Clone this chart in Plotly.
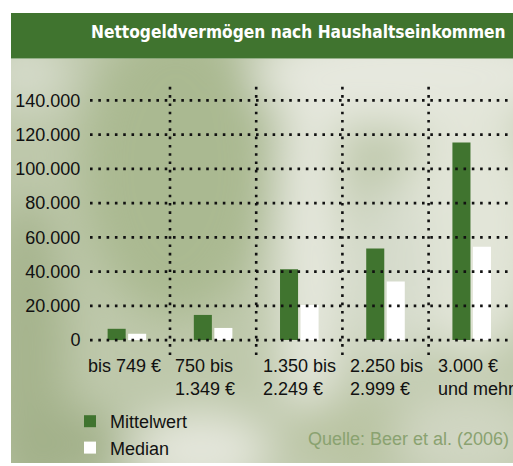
import base64
import plotly.graph_objects as go

# ---- data ----
categories = [["bis 749 €"], ["750 bis", "1.349 €"], ["1.350 bis", "2.249 €"],
              ["2.250 bis", "2.999 €"], ["3.000 €", "und mehr"]]
mittelwert = [6600, 14700, 41400, 53500, 115400]
median = [3700, 7100, 20500, 34200, 54500]
tick_vals = [0, 20000, 40000, 60000, 80000, 100000, 120000, 140000]
tick_text = ["0", "20.000", "40.000", "60.000", "80.000", "100.000", "120.000", "140.000"]
title_text = "Nettogeldvermögen nach Haushaltseinkommen"
source_text = "Quelle: Beer et al. (2006)"

W, H = 513, 466
GREEN = "#40742f"
FONT = "Liberation Sans, Arial, sans-serif"
CAT0_PX, CAT_STEP_PX = 126.9, 86.2   # pixel centre of first category, category width


def px(x):
    return x / W


def py(y):
    return 1 - y / H


# ---- background texture (decoration) ----
svg = """<svg xmlns='http://www.w3.org/2000/svg' width='502' height='407' viewBox='0 0 502 407' preserveAspectRatio='none'>
<defs><filter id='b' x='-50%' y='-50%' width='200%' height='200%'><feGaussianBlur stdDeviation='22'/></filter></defs>
<rect width='502' height='407' fill='rgb(190,200,171)'/>
<g filter='url(#b)'>
<ellipse cx='165' cy='110' rx='95' ry='150' fill='rgb(170,185,145)'/>
<ellipse cx='15' cy='300' rx='40' ry='160' fill='rgb(166,180,141)'/>
<ellipse cx='15' cy='15' rx='45' ry='35' fill='rgb(214,219,203)'/>
<ellipse cx='400' cy='15' rx='160' ry='55' fill='rgb(230,232,222)'/>
<ellipse cx='300' cy='200' rx='32' ry='230' fill='rgb(230,232,222)'/>
<ellipse cx='460' cy='170' rx='70' ry='130' fill='rgb(226,229,216)'/>
<ellipse cx='380' cy='220' rx='40' ry='100' fill='rgb(214,219,204)'/>
<ellipse cx='190' cy='395' rx='70' ry='40' fill='rgb(228,230,219)'/>
<ellipse cx='330' cy='380' rx='60' ry='40' fill='rgb(186,196,163)'/>
<ellipse cx='455' cy='380' rx='70' ry='50' fill='rgb(208,214,194)'/>
<ellipse cx='50' cy='390' rx='60' ry='40' fill='rgb(163,177,138)'/>
</g></svg>"""
bg_src = "data:image/svg+xml;base64," + base64.b64encode(svg.encode()).decode()

fig = go.Figure()
fig.add_trace(go.Bar(x=list(range(len(categories))), y=mittelwert, name="Mittelwert",
                     marker=dict(color=GREEN, line=dict(width=0))))
fig.add_trace(go.Bar(x=list(range(len(categories))), y=median, name="Median",
                     marker=dict(color="white", line=dict(width=0))))

dotted = "2.6px,5.7px"
shapes = []
# banner
shapes.append(dict(type="rect", xref="paper", yref="paper", x0=px(11), x1=1,
                   y0=py(59), y1=py(13), fillcolor=GREEN, line=dict(width=0), layer="below"))
# horizontal dotted grid (above bars)
for v in tick_vals:
    shapes.append(dict(type="line", xref="x domain", yref="y", x0=0, x1=1, y0=v, y1=v,
                       line=dict(color="#111", width=2.6, dash=dotted), layer="above"))
# vertical dotted separators
for i in range(len(categories) - 1):
    shapes.append(dict(type="line", xref="x", yref="y domain", x0=i + 0.5, x1=i + 0.5,
                       y0=0, y1=1, line=dict(color="#111", width=2.6, dash=dotted), layer="above"))

annotations = []
annotations.append(dict(text=title_text, xref="paper", yref="paper", x=px(508), y=py(32),
                        xanchor="right", yanchor="middle", showarrow=False,
                        font=dict(family="DejaVu Sans Condensed, DejaVu Sans, sans-serif",
                                  size=17.2, color="white", weight="bold")))
line_y = [368.3, 391.7]
for i, lines in enumerate(categories):
    left_px = CAT0_PX + CAT_STEP_PX * (i - 0.5) + 2 + 1.3 * i
    for j, t in enumerate(lines):
        annotations.append(dict(text=t, xref="paper", yref="paper", x=px(left_px), y=py(line_y[j]),
                                xanchor="left", yanchor="middle", showarrow=False,
                                font=dict(family=FONT, size=18, color="#111")))
annotations.append(dict(text=source_text, xref="paper", yref="paper", x=px(511), y=py(442),
                        xanchor="right", yanchor="middle", showarrow=False,
                        font=dict(family=FONT, size=18, color="rgb(138,162,112)")))

x_left = (90 - CAT0_PX) / CAT_STEP_PX
x_right = (513 - CAT0_PX) / CAT_STEP_PX

fig.update_layout(
    width=W, height=H,
    margin=dict(l=0, r=0, t=0, b=0),
    paper_bgcolor="white",
    plot_bgcolor="rgba(0,0,0,0)",
    barmode="group", bargap=0.524, bargroupgap=0.12,
    showlegend=True,
    legend=dict(x=px(70), y=py(406), xanchor="left", yanchor="top",
                bgcolor="rgba(0,0,0,0)", font=dict(family=FONT, size=18, color="#111"),
                traceorder="normal", tracegroupgap=0),
    xaxis=dict(domain=[px(90), 1], range=[x_left, x_right], showticklabels=False,
               showgrid=False, zeroline=False, showline=False, ticks=""),
    yaxis=dict(domain=[py(357.3), py(86)], range=[-8700, 148700], tickvals=tick_vals,
               ticktext=tick_text, showgrid=False, zeroline=False, showline=False,
               ticks="outside", ticklen=5, tickcolor="rgba(0,0,0,0)",
               tickfont=dict(family=FONT, size=18, color="#111")),
    shapes=shapes,
    annotations=annotations,
    images=[dict(source=bg_src, xref="paper", yref="paper", x=px(11), y=py(59),
                 sizex=px(502), sizey=407 / H, sizing="stretch", xanchor="left",
                 yanchor="top", layer="below")],
)

fig.write_html("out.html", config={"displayModeBar": False},
               post_script="document.body.style.margin='0px';document.body.style.overflow='hidden';")
